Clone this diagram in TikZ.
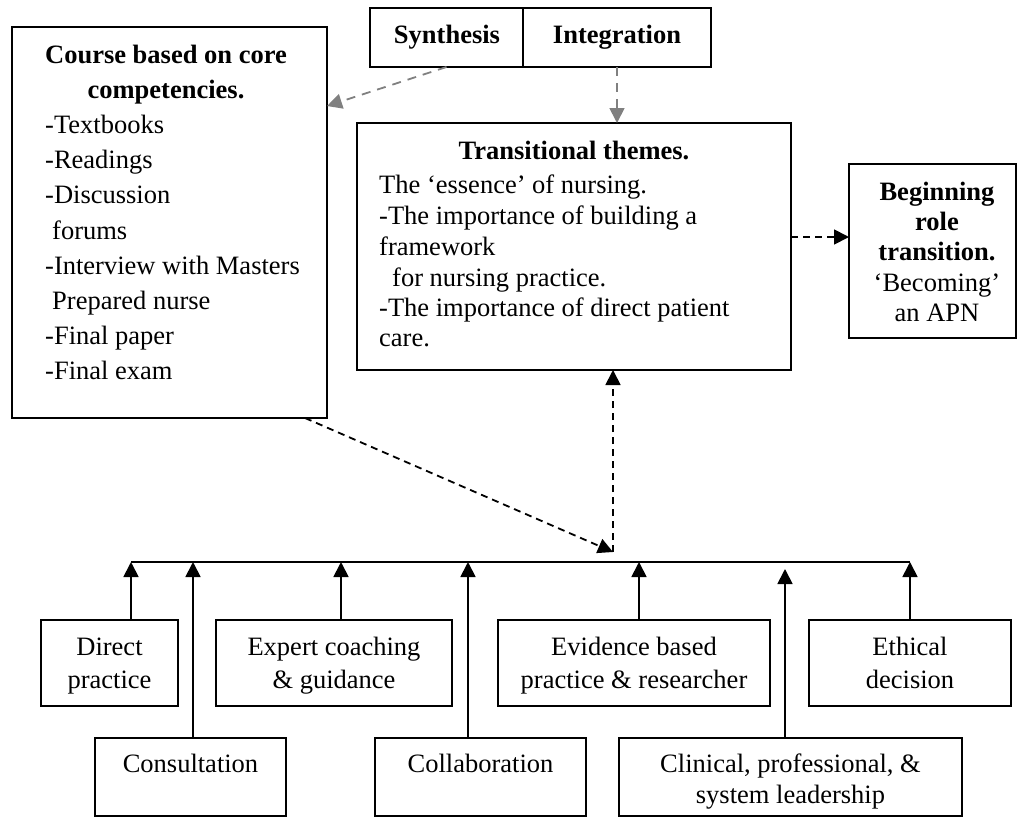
\documentclass[tikz,border=0pt]{standalone}
\usepackage{fontspec}
\setmainfont{Liberation Serif}
\usetikzlibrary{arrows.meta,calc}
\begin{document}
\begin{tikzpicture}[x=1pt,y=-1pt,
 box/.style={draw, line width=1.8pt, inner sep=0pt, outer sep=0pt, anchor=north west},
 t/.style={inner sep=0pt, font=\fontsize{26.5}{32}\selectfont},
 tb/.style={inner sep=0pt, font=\fontsize{26.5}{32}\selectfont\bfseries},
 arr/.style={line width=1.8pt, -{Triangle[length=15pt,width=15pt]}},
 darr/.style={arr, dash pattern=on 7pt off 5pt},
 garr/.style={line width=1.8pt, draw={rgb,255:red,128;green,128;blue,128}, dash pattern=on 9pt off 7pt, -{Triangle[length=15pt,width=15pt]}}]
\useasboundingbox (0,0) rectangle (1018,817);

% ---------- boxes ----------
\node[box, minimum width=315pt, minimum height=391pt] (course) at (12,27) {};
\node[box, minimum width=153pt, minimum height=59pt] (synth) at (370,8) {};
\node[box, minimum width=188pt, minimum height=59pt] (integ) at (523,8) {};
\node[box, minimum width=434pt, minimum height=247pt] (trans) at (357,123) {};
\node[box, minimum width=167pt, minimum height=174pt] (begin) at (849,164) {};

\node[box, minimum width=137pt, minimum height=86pt] (direct) at (41,620) {};
\node[box, minimum width=236pt, minimum height=86pt] (expert) at (216,620) {};
\node[box, minimum width=272pt, minimum height=86pt] (evid) at (498,620) {};
\node[box, minimum width=202pt, minimum height=86pt] (ethic) at (809,620) {};
\node[box, minimum width=191pt, minimum height=78pt] (consult) at (95,738) {};
\node[box, minimum width=211pt, minimum height=78pt] (collab) at (375,738) {};
\node[box, minimum width=343pt, minimum height=78pt] (clin) at (619,738) {};

% ---------- texts ----------
\node[tb, anchor=base] (c1) at (166,63) {Course based on core};
\node[tb, anchor=base] (c2) at (166,98.2) {competencies.};
\node[t, anchor=base west] (c3) at (45,133.4) {-Textbooks};
\node[t, anchor=base west] (c4) at (45,168.6) {-Readings};
\node[t, anchor=base west] (c5) at (45,203.8) {-Discussion};
\node[t, anchor=base west] (c6) at (52,239) {forums};
\node[t, anchor=base west] (c7) at (45,274.2) {-Interview with Masters};
\node[t, anchor=base west] (c8) at (52,309.4) {Prepared nurse};
\node[t, anchor=base west] (c9) at (45,344.6) {-Final paper};
\node[t, anchor=base west] (c10) at (45,379.8) {-Final exam};

\node[tb, anchor=base] (s1) at (447,43) {Synthesis};
\node[tb, anchor=base] (i1) at (617,43) {Integration};

\node[tb, anchor=base] (t1) at (574,159) {Transitional themes.};
\node[t, anchor=base west] (t2) at (379,193) {The ‘essence’ of nursing.};
\node[t, anchor=base west] (t3) at (379,224) {-The importance of building a};
\node[t, anchor=base west] (t4) at (379,255) {framework};
\node[t, anchor=base west] (t5) at (392,286) {for nursing practice.};
\node[t, anchor=base west] (t6) at (379,316) {-The importance of direct patient};
\node[t, anchor=base west] (t7) at (379,346) {care.};

\node[tb, anchor=base] (g1) at (937,200) {Beginning};
\node[tb, anchor=base] (g2) at (937,230) {role};
\node[tb, anchor=base] (g3) at (937,260) {transition.};
\node[t, anchor=base] (g4) at (937,291) {‘Becoming’};
\node[t, anchor=base] (g5) at (937,321) {an APN};

\node[t, anchor=base] (d1) at (109.5,655) {Direct};
\node[t, anchor=base] (d2) at (109.5,688) {practice};
\node[t, anchor=base] (e1) at (334,655) {Expert coaching};
\node[t, anchor=base] (e2) at (334,688) {\& guidance};
\node[t, anchor=base] (v1) at (634,655) {Evidence based};
\node[t, anchor=base] (v2) at (634,688) {practice \& researcher};
\node[t, anchor=base] (h1) at (910,655) {Ethical};
\node[t, anchor=base] (h2) at (910,688) {decision};
\node[t, anchor=base] (n1) at (190.5,772) {Consultation};
\node[t, anchor=base] (l1) at (480.5,772) {Collaboration};
\node[t, anchor=base] (k1) at (790.5,772) {Clinical, professional, \&};
\node[t, anchor=base] (k2) at (790.5,803) {system leadership};

% ---------- connectors ----------
\draw[garr] (synth.south) -- ($(course.north east)+(0,79)$);
\draw[garr] (integ.south) -- (trans.north -| integ.south);

\coordinate (tr) at ($(trans.north east)+(0,114)$);
\draw[darr] (tr) -- (begin.west |- tr);

\coordinate (hub) at (613,552);
\draw[darr] ($(course.south east)+(-22,0)$) -- (hub);
\draw[darr] (hub) -- (trans.south -| hub);

\coordinate (b1) at (131,562);
\coordinate (b2) at (193,562);
\coordinate (b3) at (341,562);
\coordinate (b4) at (468,562);
\coordinate (b5) at (639,562);
\coordinate (b6) at (785,569);
\coordinate (b7) at (910,562);
\draw[line width=1.8pt] (b1) -- (b7);
\draw[arr] (direct.north -| b1) -- (b1);
\draw[arr] (consult.north -| b2) -- (b2);
\draw[arr] (expert.north -| b3) -- (b3);
\draw[arr] (collab.north -| b4) -- (b4);
\draw[arr] (evid.north -| b5) -- (b5);
\draw[arr] (clin.north -| b6) -- (b6);
\draw[arr] (ethic.north -| b7) -- (b7);
\end{tikzpicture}
\end{document}
